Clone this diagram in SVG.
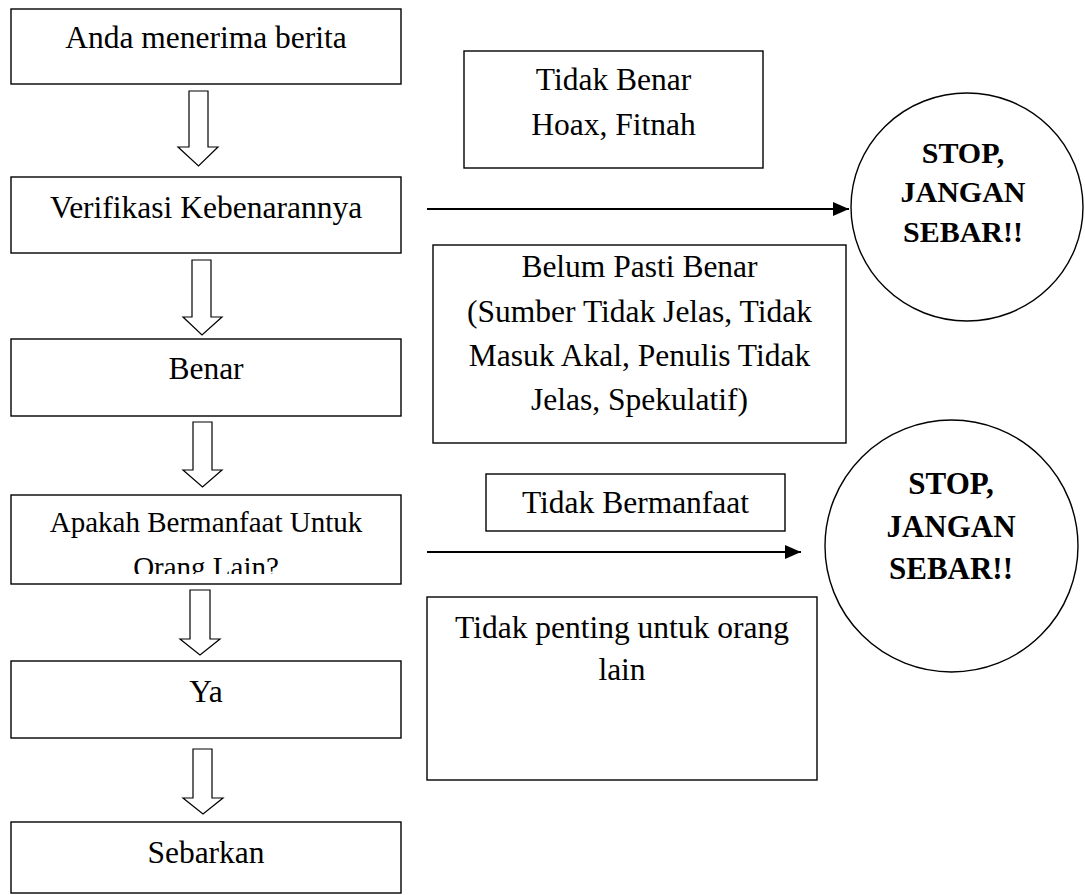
<svg xmlns="http://www.w3.org/2000/svg" width="1085" height="895" viewBox="0 0 1085 895">
<style>
  .box { fill: #ffffff; stroke: #000000; stroke-width: 1.4; }
  .blk { fill: #ffffff; stroke: #000000; stroke-width: 1.2; stroke-linejoin: miter; }
  .t { font-family: "Liberation Serif", "Times New Roman", serif; font-size: 31.5px; fill: #000000; text-anchor: middle; }
  .ts { font-size: 29px; }
  .b { font-weight: bold; font-size: 30px; }
  .b2 { font-size: 31px; }
  .ln { stroke: #000000; stroke-width: 2; fill: none; }
</style>
<defs>
  <marker id="ah" markerUnits="userSpaceOnUse" markerWidth="16" markerHeight="14" refX="16" refY="7" orient="auto">
    <path d="M0,0 L16,7 L0,14 Z" fill="#000000"/>
  </marker>
  <clipPath id="clip4"><rect x="11" y="495" width="390" height="79"/></clipPath>
</defs>
<rect width="1085" height="895" fill="#ffffff"/>

<g id="n-anda">
  <rect class="box" x="11" y="9" width="390" height="75"/>
  <text class="t" x="206" y="48">Anda menerima berita</text>
</g>
<g id="n-verifikasi">
  <rect class="box" x="11" y="177" width="390" height="76"/>
  <text class="t" x="206" y="218">Verifikasi Kebenarannya</text>
</g>
<g id="n-benar">
  <rect class="box" x="11" y="339" width="390" height="77"/>
  <text class="t" x="206" y="379">Benar</text>
</g>
<g id="n-apakah">
  <rect class="box" x="11" y="495" width="390" height="89"/>
  <g clip-path="url(#clip4)">
    <text class="t ts" x="206" y="532">Apakah Bermanfaat Untuk</text>
    <text class="t ts" x="206" y="577">Orang Lain?</text>
  </g>
</g>
<g id="n-ya">
  <rect class="box" x="11" y="661" width="390" height="77"/>
  <text class="t" x="206" y="702">Ya</text>
</g>
<g id="n-sebarkan">
  <rect class="box" x="11" y="822" width="390" height="71"/>
  <text class="t" x="206" y="863">Sebarkan</text>
</g>

<g id="n-tidakbenar">
  <rect class="box" x="464" y="51" width="299" height="117"/>
  <text class="t" x="613.5" y="90">Tidak Benar</text>
  <text class="t" x="613.5" y="135">Hoax, Fitnah</text>
</g>
<g id="n-stop1">
  <ellipse class="box" cx="967" cy="207" rx="116" ry="114"/>
  <text class="t b" x="963" y="163">STOP,</text>
  <text class="t b" x="963" y="202">JANGAN</text>
  <text class="t b" x="963" y="242">SEBAR!!</text>
</g>
<g id="n-belum">
  <rect class="box" x="433" y="245" width="413" height="198"/>
  <text class="t" x="639.5" y="277">Belum Pasti Benar</text>
  <text class="t" x="639.5" y="322">(Sumber Tidak Jelas, Tidak</text>
  <text class="t" x="639.5" y="366">Masuk Akal, Penulis Tidak</text>
  <text class="t" x="639.5" y="410">Jelas, Spekulatif)</text>
</g>
<g id="n-tidakbermanfaat">
  <rect class="box" x="486" y="474" width="299" height="57"/>
  <text class="t" x="635.5" y="513">Tidak Bermanfaat</text>
</g>
<g id="n-stop2">
  <ellipse class="box" cx="951.5" cy="546" rx="126.5" ry="126"/>
  <text class="t b b2" x="951" y="494">STOP,</text>
  <text class="t b b2" x="951" y="537">JANGAN</text>
  <text class="t b b2" x="951" y="579">SEBAR!!</text>
</g>
<g id="n-tidakpenting">
  <rect class="box" x="427" y="597" width="390" height="183"/>
  <text class="t" x="622" y="638">Tidak penting untuk orang</text>
  <text class="t" x="622" y="680">lain</text>
</g>

<g id="connectors">
  <polygon class="blk" points="189,91 208,91 208,147 218,147 198.5,166 178,147 189,147"/>
  <polygon class="blk" points="192,260 211,260 211,317 222,317 202,335 183,317 192,317"/>
  <polygon class="blk" points="193,422 212,422 212,470 222,470 202.5,487 183,470 193,470"/>
  <polygon class="blk" points="190,590 210,590 210,639 220,639 200,655 180,639 190,639"/>
  <polygon class="blk" points="193,749 212,749 212,798 223,798 203,814 183,798 193,798"/>
  <line class="ln" x1="427" y1="209" x2="849" y2="209" marker-end="url(#ah)"/>
  <line class="ln" x1="427" y1="552" x2="801" y2="552" marker-end="url(#ah)"/>
</g>
</svg>
